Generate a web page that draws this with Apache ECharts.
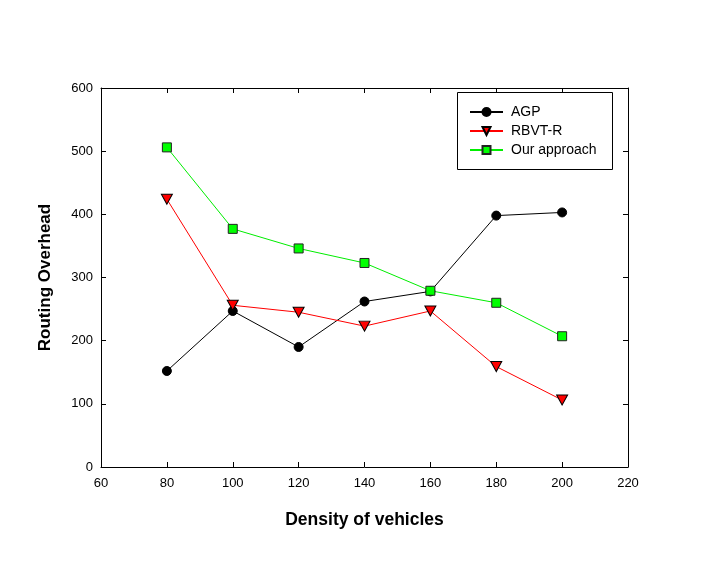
<!DOCTYPE html>
<html>
<head>
<meta charset="utf-8">
<script src="https://cdn.jsdelivr.net/npm/echarts@6/dist/echarts.min.js"></script>
<style>
  html, body { margin: 0; padding: 0; background: #fff; }
  #chart { width: 709px; height: 562px; }
</style>
</head>
<body>
<div id="chart"></div>
<script>
const densities = [80, 100, 120, 140, 160, 180, 200];
const agp = [152, 247, 190, 262, 278, 398, 403];
const rbvtr = [424, 256, 245, 223, 247, 159, 106];
const ourApproach = [506, 377, 346, 323, 279, 260, 207];

const font = 'Liberation Sans, Arial, Helvetica, sans-serif';

const pairs = vals => densities.map((d, i) => [d, vals[i]]);

const chart = echarts.init(document.getElementById('chart'));

const tickStyle = { show: true, inside: true, length: 5, lineStyle: { color: '#000', width: 1 } };

chart.setOption({
  backgroundColor: '#fff',
  animation: false,
  grid: { left: 101, right: 81, top: 88, bottom: 95 },
  xAxis: [{
    type: 'value', min: 60, max: 220, interval: 20,
    name: 'Density of vehicles', nameLocation: 'middle', nameGap: 44,
    nameTextStyle: { fontFamily: font, fontSize: 17.5, fontWeight: 'bold', color: '#000' },
    axisLine: { show: true, lineStyle: { color: '#000', width: 1 } },
    axisTick: tickStyle,
    axisLabel: { fontFamily: font, fontSize: 13, color: '#000', margin: 10 },
    splitLine: { show: false }
  }, {
    type: 'value', position: 'top', min: 60, max: 220, interval: 20,
    axisLine: { show: true, onZero: false, lineStyle: { color: '#000', width: 1 } },
    axisTick: tickStyle,
    axisLabel: { show: false },
    splitLine: { show: false }
  }],
  yAxis: [{
    type: 'value', min: 0, max: 600, interval: 100,
    name: 'Routing Overhead', nameLocation: 'middle', nameGap: 47,
    nameTextStyle: { fontFamily: font, fontSize: 17, fontWeight: 'bold', color: '#000' },
    axisLine: { show: true, lineStyle: { color: '#000', width: 1 } },
    axisTick: tickStyle,
    axisLabel: { fontFamily: font, fontSize: 13, color: '#000', margin: 8 },
    splitLine: { show: false }
  }, {
    type: 'value', position: 'right', min: 0, max: 600, interval: 100,
    axisLine: { show: true, onZero: false, lineStyle: { color: '#000', width: 1 } },
    axisTick: tickStyle,
    axisLabel: { show: false },
    splitLine: { show: false }
  }],
  graphic: [{
    type: 'rect', left: 457, top: 92, z: 0,
    shape: { width: 155, height: 77 },
    style: { fill: '#fff', stroke: '#000', lineWidth: 1 }
  }],
  legend: {
    left: 469, top: 105, orient: 'vertical',
    padding: 0,
    itemGap: 5, itemWidth: 33, itemHeight: 10,
    textStyle: { fontFamily: font, fontSize: 14, color: '#000', padding: [0, 0, 0, 3] },
    data: ['AGP', 'RBVT-R', 'Our approach']
  },
  series: [{
    name: 'AGP', type: 'line', data: pairs(agp),
    symbol: 'circle', symbolSize: 9,
    lineStyle: { color: '#000', width: 1 },
    itemStyle: { color: '#000', borderColor: '#000', borderWidth: 1 }
  }, {
    name: 'RBVT-R', type: 'line', data: pairs(rbvtr),
    symbol: 'triangle', symbolSize: [11, 10], symbolRotate: 180,
    lineStyle: { color: '#ff0000', width: 1 },
    itemStyle: { color: '#ff0000', borderColor: '#000', borderWidth: 1 }
  }, {
    name: 'Our approach', type: 'line', data: pairs(ourApproach),
    symbol: 'rect', symbolSize: 9,
    lineStyle: { color: '#00ee00', width: 1 },
    itemStyle: { color: '#00ff00', borderColor: '#222', borderWidth: 1 }
  }]
});
</script>
</body>
</html>
